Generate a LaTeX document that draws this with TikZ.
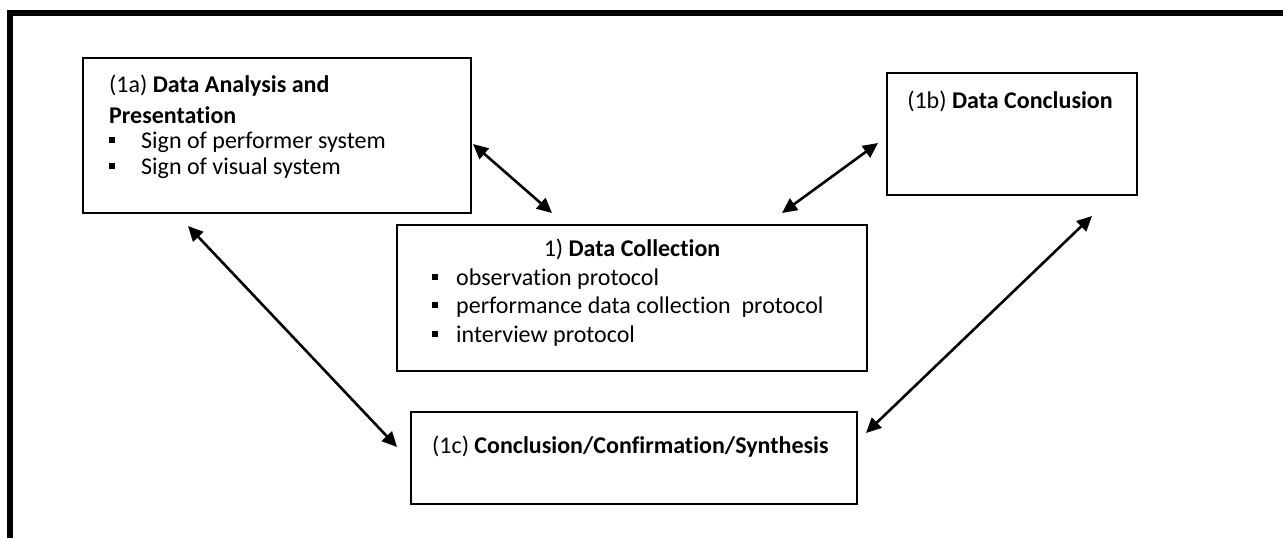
\documentclass[tikz,border=0pt]{standalone}
\usepackage{fontspec}
\setmainfont{Carlito}[Ligatures=NoCommon]
\usetikzlibrary{arrows.meta}
\tikzset{
  box/.style={draw, line width=2pt, inner sep=0pt, rectangle},
  txt/.style={anchor=base west, inner sep=0pt, font=\fontsize{24}{29}\selectfont},
  ctxt/.style={anchor=base, inner sep=0pt, font=\fontsize{24}{29}\selectfont},
  link/.style={line width=2.6pt, {Triangle[length=15pt,width=14pt]}-{Triangle[length=15pt,width=14pt]}},
}
\newcommand{\sqbullet}{\rule[5pt]{6pt}{6pt}}
\begin{document}
\begin{tikzpicture}[x=1pt,y=-1pt]
  \useasboundingbox (0,0) rectangle (1283,538);
  % frame: top and left edges only
  \draw[line width=6pt, line join=miter] (10,538) -- (10,13) -- (1283,13);

  % boxes
  \node[box, minimum width=388pt, minimum height=155pt] (ana) at (277,135.5) {};
  \node[box, minimum width=250pt, minimum height=122pt] (con) at (1012,134) {};
  \node[box, minimum width=470pt, minimum height=146pt] (col) at (632,298) {};
  \node[box, minimum width=446pt, minimum height=92pt] (syn) at (634,458) {};

  % box (1a)
  \node[txt] (anaT1) at (109,92) {(1a) \textbf{Data Analysis and}};
  \node[txt] (anaT2) at (109,123) {\textbf{Presentation}};
  \node[txt] (anaB1) at (109,148) {\sqbullet};
  \node[txt] (anaL1) at (141,148) {Sign of performer system};
  \node[txt] (anaB2) at (109,174) {\sqbullet};
  \node[txt] (anaL2) at (141,174) {Sign of visual system};

  % box (1b)
  \node[ctxt] (conT) at (1010,108) {(1b) \textbf{Data Conclusion}};

  % box 1)
  \node[ctxt] (colT) at (632,256) {1) \textbf{Data Collection}};
  \node[txt] (colB1) at (432,285) {\sqbullet};
  \node[txt] (colL1) at (456,285) {observation protocol};
  \node[txt] (colB2) at (432,313) {\sqbullet};
  \node[txt] (colL2) at (456,313) {performance data collection\ \ protocol};
  \node[txt] (colB3) at (432,342) {\sqbullet};
  \node[txt] (colL3) at (456,342) {interview protocol};

  % box (1c)
  \node[txt] (synT) at (432,453) {(1c) \textbf{Conclusion/Confirmation/Synthesis}};

  % arrow end points beside the boxes
  \coordinate (p1) at (473,144);
  \coordinate (q1) at (552,213);
  \coordinate (p2) at (878,143);
  \coordinate (q2) at (782,213);
  \coordinate (p3) at (188,226);
  \coordinate (q3) at (397,447);
  \coordinate (p4) at (1092,216);
  \coordinate (q4) at (866,433);

  \draw[link] (p1) -- (q1);
  \draw[link] (p2) -- (q2);
  \draw[link] (p3) -- (q3);
  \draw[link] (p4) -- (q4);
\end{tikzpicture}
\end{document}
